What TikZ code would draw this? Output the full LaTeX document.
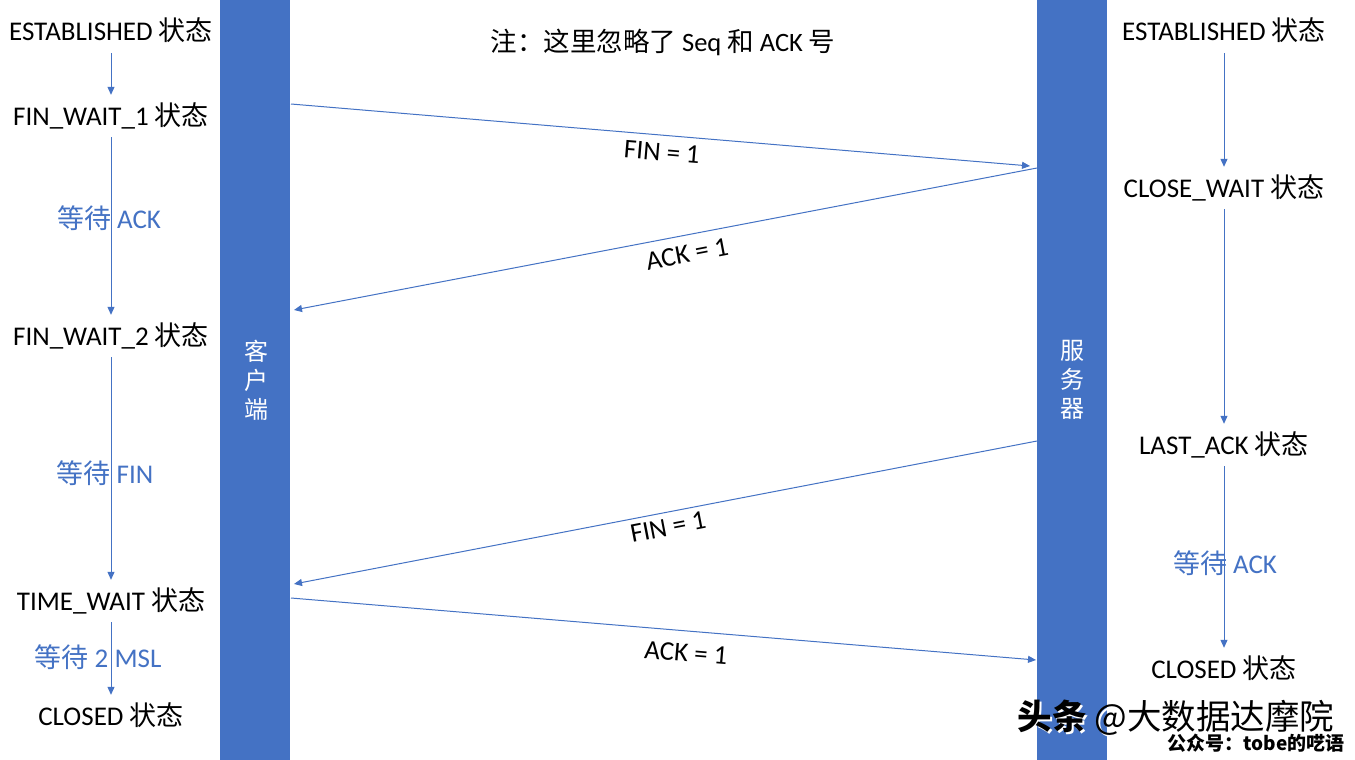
\documentclass[tikz,border=0pt]{standalone}
\usepackage{fontspec}
\setmainfont{Carlito}
\newfontfamily\cjk{Noto Sans CJK SC}
\usetikzlibrary{arrows.meta}
\definecolor{barblue}{HTML}{4472C4}
\newcommand{\zh}[1]{{\cjk #1}}
\begin{document}
\begin{tikzpicture}[x=1pt,y=-1pt,
  state/.style={font=\fontsize{27}{32}\selectfont, text height=21.5pt, text depth=3.5pt, inner xsep=0pt, inner ysep=8.5pt},
  waitlbl/.style={font=\fontsize{27}{32}\selectfont, text=barblue, inner sep=0pt},
  msg/.style={font=\fontsize{27}{32}\selectfont, inner sep=0pt},
  barbox/.style={fill=barblue, draw=none, inner sep=0pt, minimum width=70pt, minimum height=760pt},
  bartext/.style={font=\fontsize{24}{29}\selectfont\cjk, text=white, align=center, inner sep=0pt},
  arr/.style={draw=barblue, line width=1pt, -{Triangle[length=8pt,width=7pt]}},
]
\useasboundingbox (0,0) rectangle (1355,760);
\fill[white] (0,0) rectangle (1355,760);

% bars
\node[barbox] (cbar) at (255,380) {};
\node[barbox] (sbar) at (1072,380) {};
\node[bartext] (ctext) at (256,380) {客\\户\\端};
\node[bartext] (stext) at (1072,380) {服\\务\\器};

% title
\node[font=\fontsize{26.5}{30}\selectfont, inner sep=0pt] (title) at (663,42) {\zh{注：这里忽略了} Seq \zh{和} ACK \zh{号}};

% left states
\node[state] (l1) at (111,32) {ESTABLISHED \zh{状态}};
\node[state] (l2) at (111,116) {FIN\_WAIT\_1 \zh{状态}};
\node[state] (l3) at (111,336) {FIN\_WAIT\_2 \zh{状态}};
\node[state] (l4) at (111,601) {TIME\_WAIT \zh{状态}};
\node[state] (l5) at (111,716) {CLOSED \zh{状态}};
\draw[arr] (l1) -- (l2);
\draw[arr] (l2) -- (l3);
\draw[arr] (l3) -- (l4);
\draw[arr] (l4) -- (l5);
\node[waitlbl] (w1) at (109,218) {\zh{等待} ACK};
\node[waitlbl] (w2) at (105,473) {\zh{等待} FIN};
\node[waitlbl] (w3) at (98,657) {\zh{等待} 2 MSL};

% right states
\node[state] (r1) at (1224,32) {ESTABLISHED \zh{状态}};
\node[state] (r2) at (1224,188) {CLOSE\_WAIT \zh{状态}};
\node[state] (r3) at (1224,445) {LAST\_ACK \zh{状态}};
\node[state] (r4) at (1224,669) {CLOSED \zh{状态}};
\draw[arr] (r1) -- (r2);
\draw[arr] (r2) -- (r3);
\draw[arr] (r3) -- (r4);
\node[waitlbl] (w4) at (1225,563) {\zh{等待} ACK};

% messages
\coordinate (m1a) at (291,104);  \coordinate (m1b) at (1030,166);
\coordinate (m2a) at (1037,168); \coordinate (m2b) at (294,310);
\coordinate (m3a) at (1037,441); \coordinate (m3b) at (294,584);
\coordinate (m4a) at (291,598);  \coordinate (m4b) at (1036,660);
\draw[arr] (m1a) -- (m1b);
\draw[arr] (m2a) -- (m2b);
\draw[arr] (m3a) -- (m3b);
\draw[arr] (m4a) -- (m4b);
\node[msg, rotate=-4.8] (t1) at (662,152) {FIN = 1};
\node[msg, rotate=10.8] (t2) at (687,254) {ACK = 1};
\node[msg, rotate=10.9] (t3) at (668,527) {FIN = 1};
\node[msg, rotate=-4.8] (t4) at (686,653) {ACK = 1};

% watermark
\node[font=\fontsize{34.5}{38}\selectfont\cjk, text=white, inner sep=0pt, anchor=west] (wm1s) at (1019.5,720) {{\bfseries 头条} @大数据达摩院};
\node[font=\fontsize{34.5}{38}\selectfont\cjk, text=black, inner sep=0pt, anchor=west] (wm1) at (1017.5,718) {{\bfseries 头条} @大数据达摩院};
\node[font=\fontsize{19}{22}\selectfont\cjk\bfseries, text=black, inner sep=0pt] (wm2) at (1256,743) {公众号：tobe的呓语};
\end{tikzpicture}
\end{document}
